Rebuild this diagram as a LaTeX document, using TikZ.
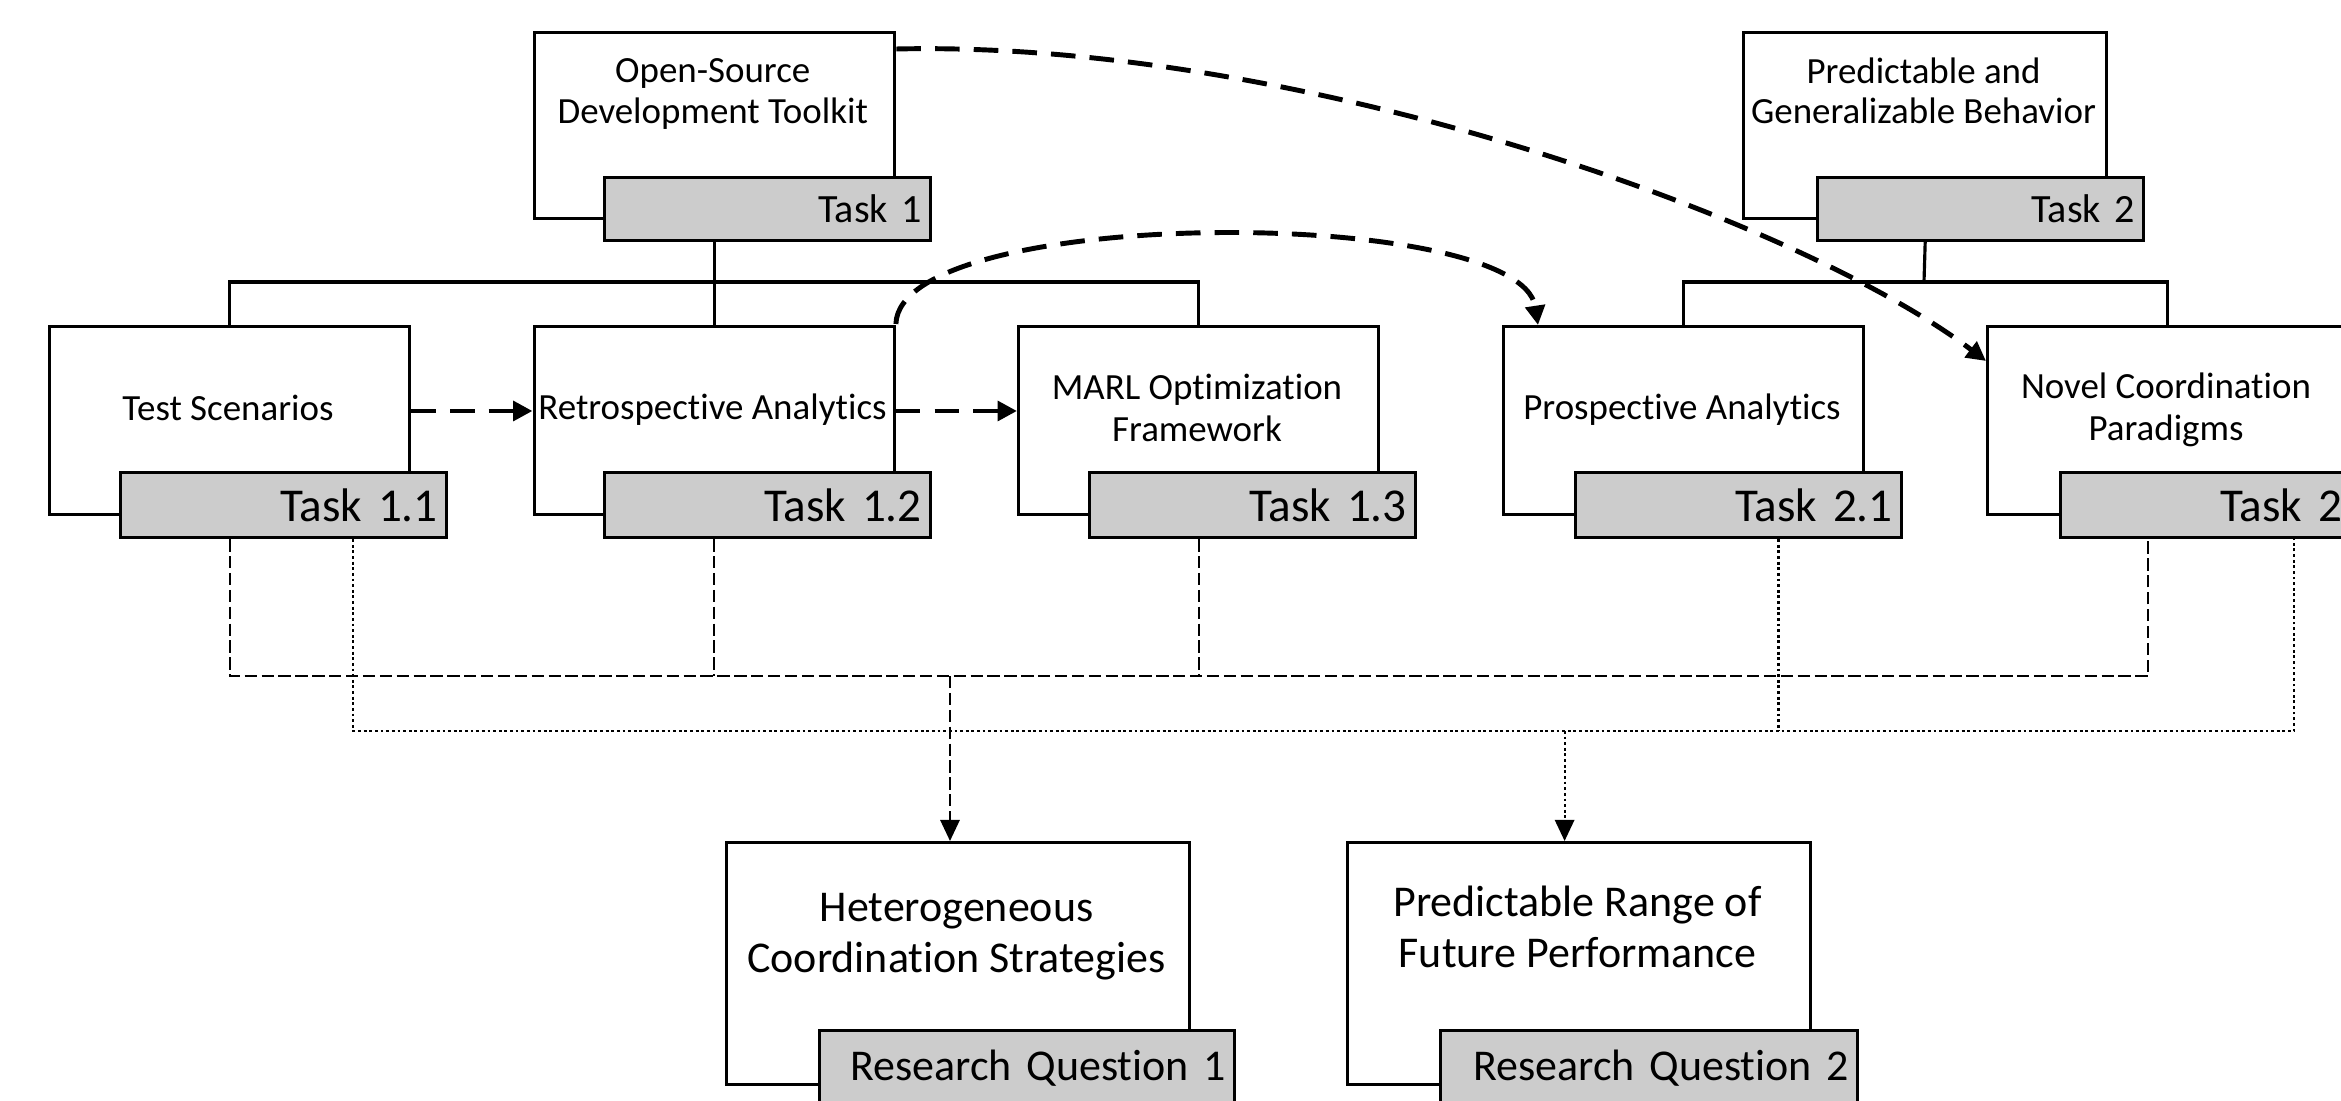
\documentclass[tikz,border=0pt]{standalone}
\usepackage{fontspec}
\setmainfont{Carlito}[Ligatures={NoCommon},RawFeature={-liga;-clig}]
\usetikzlibrary{calc,arrows.meta}
\newcommand\myfs[2]{\fontsize{#1}{#2}\selectfont}
\begin{document}
\begin{tikzpicture}[x=0.01cm,y=-0.01cm,
  wbox/.style={draw,fill=white,line width=0.9pt,inner sep=0pt,anchor=north west},
  gbox/.style={draw,fill=black!20,line width=0.9pt,inner xsep=0.09cm,inner ysep=0pt,
     align=right,text width=#1,anchor=north west},
  txt/.style={align=center,inner sep=0pt},
  tree/.style={line width=0.9pt},
  harrow/.style={line width=1.4pt,dash pattern=on 7pt off 4pt,
     -{Triangle[length=5.5pt,width=5.5pt]}},
  bdash/.style={line width=0.6pt,dash pattern=on 3.5pt off 1.3pt},
  bdot/.style={line width=0.6pt,dash pattern=on 0.8pt off 0.8pt},
  darrow/.style={-{Triangle[length=6pt,width=5.5pt]}}
]
\useasboundingbox (0,0) rectangle (2341,1101);
\clip (0,0) rectangle (2341,1101);

% ---- top level
\node[wbox,minimum width=3.605cm,minimum height=1.86cm] (w1) at (532.5,31) {};
\node[gbox=3.08cm,minimum height=0.63cm,font=\myfs{11.4}{13}] (g1) at (603,176) {Task 1};
\node[txt,font=\myfs{10.5}{11.4}] (t1) at (712.75,94) {Open-Source\\Development Toolkit};

\node[wbox,minimum width=3.63cm,minimum height=1.86cm] (w2) at (1742,31) {};
\node[gbox=3.08cm,minimum height=0.63cm,font=\myfs{11.4}{13}] (g2) at (1816,176) {Task 2};
\node[txt,font=\myfs{10.5}{11.4}] (t2) at (1923.5,91) {Predictable and\\Generalizable Behavior};

% ---- task row
\foreach \n/\x in {11/48,12/532.5,13/1017,21/1502,22/1986}{
  \node[wbox,minimum width=3.6cm,minimum height=1.88cm] (w\n) at (\x,325) {};
}
\node[gbox=3.08cm,minimum height=0.65cm,font=\myfs{13.4}{16}] (g11) at (119,471) {Task 1.1};
\node[gbox=3.08cm,minimum height=0.65cm,font=\myfs{13.4}{16}] (g12) at (603,471) {Task 1.2};
\node[gbox=3.08cm,minimum height=0.65cm,font=\myfs{13.4}{16}] (g13) at (1088,471) {Task 1.3};
\node[gbox=3.08cm,minimum height=0.65cm,font=\myfs{13.4}{16}] (g21) at (1574,471) {Task 2.1};
\node[gbox=3.08cm,minimum height=0.65cm,font=\myfs{13.4}{16}] (g22) at (2059,471) {Task 2.2};

\node[txt,font=\myfs{10.5}{12}] (t11) at (228,408) {Test Scenarios};
\node[txt,font=\myfs{10.5}{12}] (t12) at (712.5,410) {Retrospective Analytics};
\node[txt,font=\myfs{10.5}{12}] (t13) at (1197,408) {MARL Optimization\\Framework};
\node[txt,font=\myfs{10.5}{12}] (t21) at (1682,410) {Prospective Analytics};
\node[txt,font=\myfs{10.5}{12}] (t22) at (2166,410) {Novel Coordination\\Paradigms};

% ---- research questions
\node[wbox,minimum width=4.63cm,minimum height=2.42cm] (r1) at (725,841) {};
\node[gbox=3.97cm,minimum height=0.76cm,font=\myfs{12.5}{15}] (q1) at (818,1029) {Research Question 1};
\node[txt,font=\myfs{12.5}{14.5}] (s1) at (956.5,937) {Heterogeneous\\Coordination Strategies};

\node[wbox,minimum width=4.63cm,minimum height=2.42cm] (r2) at (1346,841) {};
\node[gbox=3.99cm,minimum height=0.76cm,font=\myfs{12.5}{15}] (q2) at (1439,1029) {Research Question 2};
\node[txt,font=\myfs{12.5}{14.5}] (s2) at (1577.5,927) {Predictable Range of\\Future Performance};

% ---- tree connectors
\coordinate (bar1) at (712.5,282);
\coordinate (bar2) at (1924,282);
\draw[tree] (g1.south -| w12.north) -- (w12.north);
\draw[tree] (w11.north) |- (bar1) -| (w13.north);
\draw[tree] (g2.south -| w2.north) -- (bar2);
\draw[tree] (w21.north) |- (bar2) -| (w22.north);

% ---- dashed flow arrows
\draw[harrow] (w11.east |- 0,411) -- (w12.west |- 0,411);
\draw[harrow] (w12.east |- 0,411) -- (w13.west |- 0,411);
\draw[harrow] ($(w12.north east)+(0,-1)$) .. controls (900,205) and (1520,205) .. ($(w21.north west)+(36,0)$);
\draw[harrow] ($(w1.north east)+(0,18)$) .. controls (1300,40) and (1800,220) .. ($(w22.north west)+(0,36)$);

% ---- bottom buses
\coordinate (dbus) at (0,676);
\coordinate (obus) at (0,731);
\coordinate (d11) at ($(g11.south west)+(110.6,0)$);
\coordinate (d22) at ($(g22.south west)+(89,0)$);
\coordinate (o11) at ($(g11.south west)+(234,0)$);
\coordinate (o21) at ($(g21.south west)+(204.5,0)$);
\coordinate (o22) at ($(g22.south west)+(235,0)$);
\coordinate (a1) at ($(r1.north west)+(225,0)$);
\coordinate (a2) at ($(r2.north west)+(218.6,0)$);

\draw[bdash] (d11) |- (dbus -| d22) -- (d22);
\draw[bdash] (g12.south -| w12.north) -- (dbus -| w12.north);
\draw[bdash] (g13.south -| w13.north) -- (dbus -| w13.north);
\draw[bdash,darrow] (dbus -| a1) -- (a1);

\draw[bdot] (o11) |- (obus -| o22) -- (o22);
\draw[bdot] (o21) -- (obus -| o21);
\draw[bdot,darrow] (obus -| a2) -- (a2);
\end{tikzpicture}
\end{document}
